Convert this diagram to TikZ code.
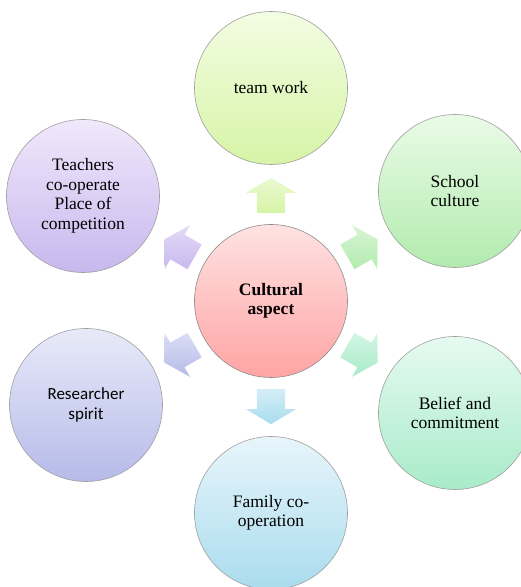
\documentclass[tikz,border=0pt]{standalone}
\usepackage{fontspec}
\setmainfont{Liberation Serif}
\newfontfamily\carl{Carlito}
\usetikzlibrary{shapes.arrows,calc}
\definecolor{cTopA}{HTML}{FFE2E2}\definecolor{cTopB}{HTML}{FFA4A4}
\definecolor{tTop}{HTML}{F3FDE3}\definecolor{tBot}{HTML}{D6F4A6}
\definecolor{sTop}{HTML}{EAFBE7}\definecolor{sBot}{HTML}{B2EBAE}
\definecolor{bTop}{HTML}{E6FAF1}\definecolor{bBot}{HTML}{A8EBC9}
\definecolor{fTop}{HTML}{E8F5FB}\definecolor{fBot}{HTML}{A9DCEE}
\definecolor{rTop}{HTML}{E8EAF9}\definecolor{rBot}{HTML}{B6BBE9}
\definecolor{pTop}{HTML}{F0E8FB}\definecolor{pBot}{HTML}{C8B8EE}
\tikzset{
  bubble/.style={circle, minimum size=153pt, inner sep=0pt, draw=gray!75, line width=0.6pt,
     align=center, font=\fontsize{17.5}{19.5}\selectfont},
  blockarrow/.style={single arrow, minimum height=35pt, inner xsep=0pt, inner ysep=14pt,
     text width=0pt, text height=0pt, text depth=0pt, anchor=tail,
     single arrow head extend=11pt, single arrow tip angle=118, draw=none},
  arrowdir/.style 2 args={rotate=#1, shading angle=-#1, top color=#2Bot!50, bottom color=#2Bot}
}
\begin{document}
\begin{tikzpicture}[x=1pt,y=1pt]
\path[use as bounding box] (0,0) rectangle (521,587);
\clip (0,0) rectangle (521,587);
\node[bubble, top color=cTopA, bottom color=cTopB, draw=gray!90] (C) at (271,286)
  {\textbf{Cultural}\\\textbf{aspect}};
\node[bubble, top color=tTop, bottom color=tBot] (T) at (271,499) {team work};
\node[bubble, top color=sTop, bottom color=sBot] (S) at (455,396) {School\\culture};
\node[bubble, top color=bTop, bottom color=bBot] (B) at (455,174) {Belief and\\commitment};
\node[bubble, top color=fTop, bottom color=fBot] (F) at (271,74) {Family co-\\operation};
\node[bubble, top color=rTop, bottom color=rBot, font=\carl\fontsize{17}{19.5}\selectfont] (R) at (86,182) {Researcher\\spirit};
\node[bubble, top color=pTop, bottom color=pBot] (P) at (83,391) {Teachers\\co-operate\\Place of\\competition};
\node[blockarrow, arrowdir={90}{t}]  (aT) at ($(C)+(90:88)$) {};
\node[blockarrow, arrowdir={30}{s}]  (aS) at ($(C)+(30:88)$) {};
\node[blockarrow, arrowdir={-30}{b}] (aB) at ($(C)+(-30:88)$) {};
\node[blockarrow, arrowdir={-90}{f}] (aF) at ($(C)+(-90:88)$) {};
\node[blockarrow, arrowdir={210}{r}] (aR) at ($(C)+(210:88)$) {};
\node[blockarrow, arrowdir={150}{p}] (aP) at ($(C)+(150:88)$) {};
\end{tikzpicture}
\end{document}
